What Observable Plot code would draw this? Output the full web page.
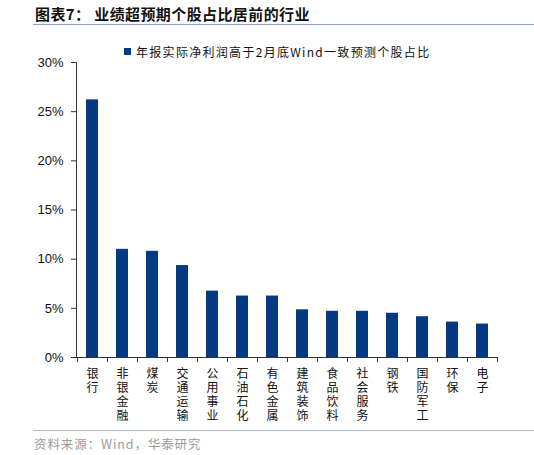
<!DOCTYPE html>
<html>
<head>
<meta charset="utf-8">
<script src="https://cdn.jsdelivr.net/npm/d3@7"></script>
<script src="https://cdn.jsdelivr.net/npm/@observablehq/plot@0.6"></script>
<style>
  html, body { margin: 0; padding: 0; background: #fff; }
  #wrap { position: relative; width: 534px; height: 455px; overflow: hidden; font-family: "Noto Sans CJK SC", sans-serif; }
  #title { position: absolute; left: 35px; top: 3px; font-size: 15px; font-weight: bold; color: #111; white-space: nowrap; letter-spacing: 0.4px; }
  #rule1 { position: absolute; left: 33px; right: 0; top: 24px; height: 0; border-top: 1.5px solid #8ea6c8; }
  #legend { position: absolute; left: 124px; top: 43px; font-size: 12px; color: #111; white-space: nowrap; letter-spacing: 1.3px; display: flex; align-items: center; }
  #legend .sw { display: inline-block; width: 7px; height: 7px; background: #053982; margin-right: 5px; }
  #chart { position: absolute; left: 0; top: 40px; }
  #rule2 { position: absolute; left: 33px; right: 0; top: 430px; height: 0; border-top: 1.5px solid #a9bcd6; }
  #source { position: absolute; left: 34px; top: 434px; font-size: 12.5px; color: #9a9a9a; white-space: nowrap; letter-spacing: 0.9px; }
</style>
</head>
<body>
<div id="wrap">
  <div id="title">图表7：&nbsp;业绩超预期个股占比居前的行业</div>
  <div id="rule1"></div>
  <div id="legend"><span class="sw"></span><span id="legendText"></span></div>
  <div id="chart"></div>
  <div id="rule2"></div>
  <div id="source">资料来源：Wind，华泰研究</div>
</div>
<script>
const seriesName = "年报实际净利润高于2月底Wind一致预测个股占比";
const industries = ["银行","非银金融","煤炭","交通运输","公用事业","石油石化","有色金属","建筑装饰","食品饮料","社会服务","钢铁","国防军工","环保","电子"];
const shares = [26.2, 11.0, 10.8, 9.35, 6.75, 6.25, 6.25, 4.85, 4.7, 4.7, 4.5, 4.15, 3.6, 3.4];
const yTicks = [0, 5, 10, 15, 20, 25, 30];

document.getElementById("legendText").textContent = seriesName;

const data = industries.map((name, i) => ({name, value: shares[i]}));

const W = 534, H = 385, mL = 76, mR = 37, mT = 22, mB = 68;
const step = (W - mL - mR) / industries.length;
const barColor = "#053982";
const axisColor = "#333";

const chart = Plot.plot({
  width: W,
  height: H,
  marginLeft: mL,
  marginRight: mR,
  marginTop: mT,
  marginBottom: mB,
  style: {fontFamily: "'Liberation Sans', Arial, sans-serif", background: "transparent", color: "#111"},
  x: {domain: industries, paddingInner: 0.6, paddingOuter: 0.3, label: null},
  y: {domain: [0, 30], label: null},
  marks: [
    Plot.barY(data, {x: "name", y: "value", fill: barColor}),
    Plot.axisY({ticks: yTicks, tickFormat: d => d + "%", tickSize: 5, tickPadding: 8, fontSize: 13, stroke: axisColor, fill: "#111", label: null}),
    Plot.frame({anchor: "left", stroke: axisColor}),
    Plot.ruleY([0], {stroke: axisColor}),
    Plot.ruleX(industries, {x: d => d, y1: 0, y2: 0, insetBottom: -5, dx: -step / 2, stroke: axisColor}),
    Plot.ruleX([industries[industries.length - 1]], {x: d => d, y1: 0, y2: 0, insetBottom: -5, dx: step / 2, stroke: axisColor}),
    Plot.axisX({tickSize: 0, tickPadding: 11, tickFormat: d => d.split("").join("\n"), lineHeight: 1.15, fontSize: 12, fontFamily: "'Liberation Sans', 'Noto Sans CJK SC', sans-serif", fill: "#111", label: null})
  ]
});
document.getElementById("chart").appendChild(chart);
</script>
</body>
</html>
